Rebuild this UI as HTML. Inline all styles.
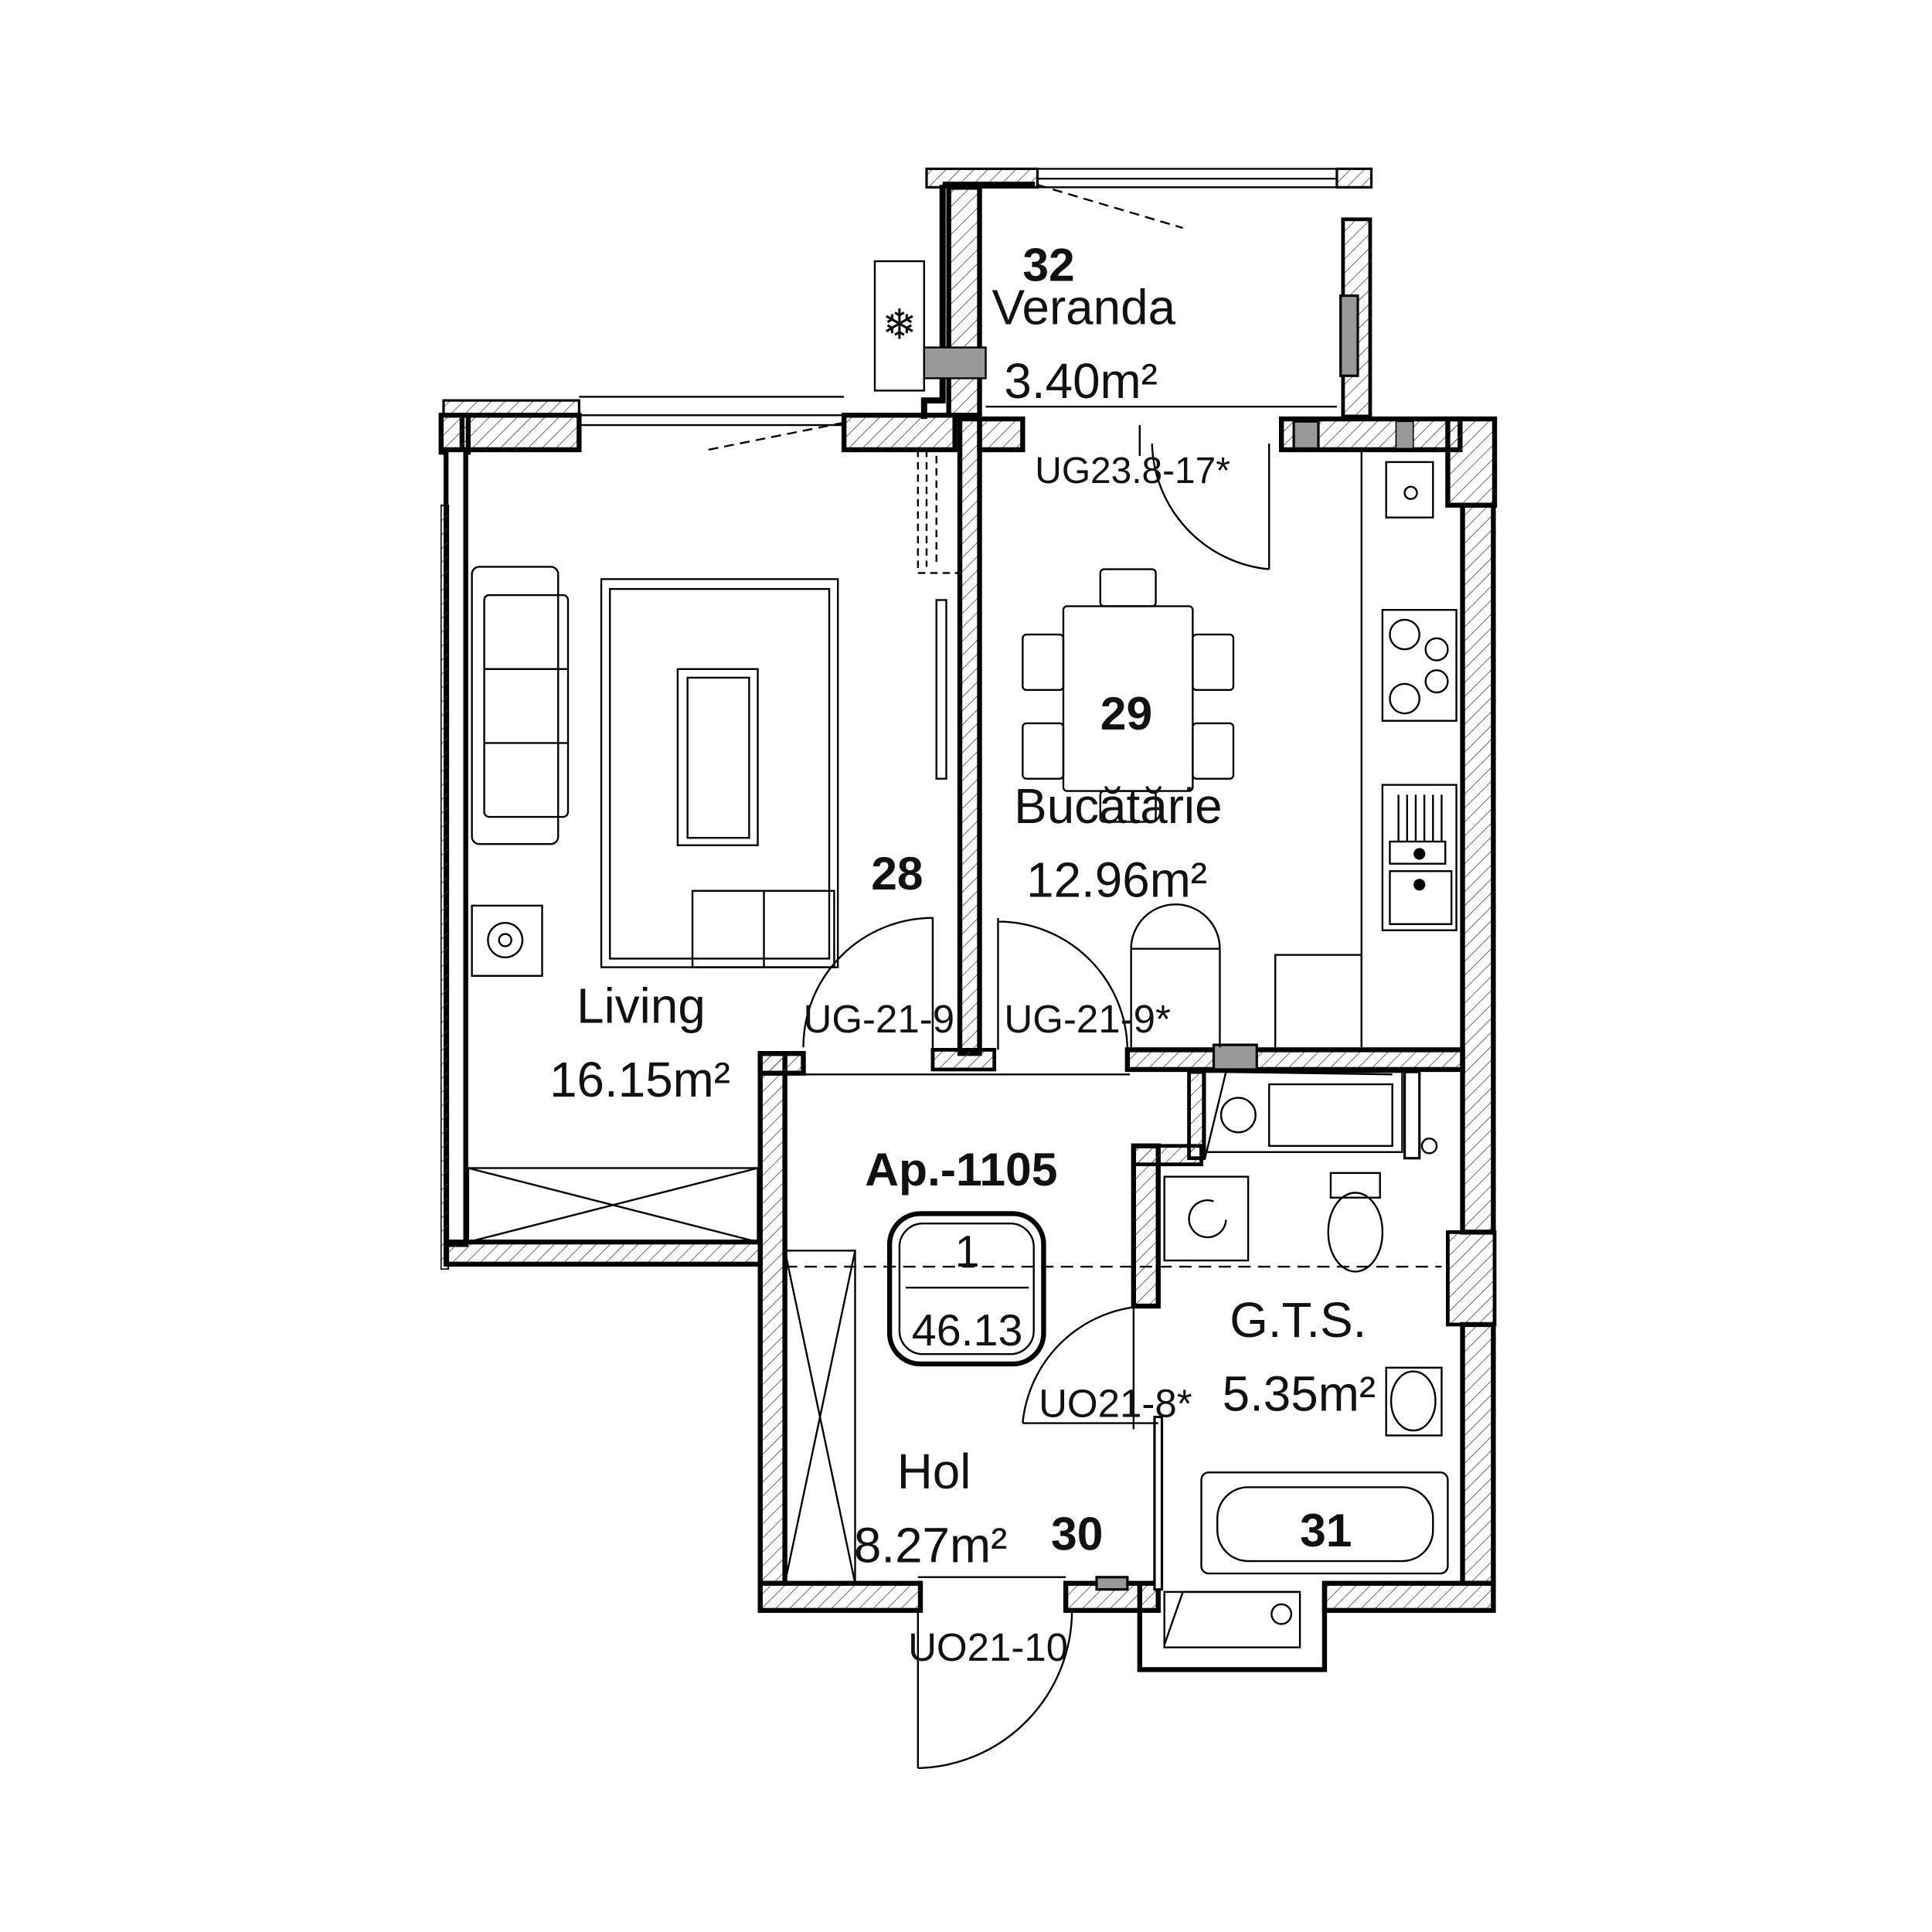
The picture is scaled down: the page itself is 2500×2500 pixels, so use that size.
<!DOCTYPE html>
<html><head><meta charset="utf-8"><style>
html,body{margin:0;padding:0;background:#fff}
svg{display:block}
text{font-family:"Liberation Sans",sans-serif;fill:#111}
</style></head><body>
<svg width="2500" height="2500" viewBox="0 0 1568 1568" xmlns="http://www.w3.org/2000/svg">
<defs>
<pattern id="h" width="8" height="8" patternUnits="userSpaceOnUse" patternTransform="rotate(45)">
<line x1="0" y1="0" x2="0" y2="8" stroke="#444" stroke-width="1"/></pattern>
</defs>
<rect width="1568" height="1568" fill="#fff"/>
<g stroke="#000" stroke-width="4" fill="url(#h)">
<!-- veranda -->
<rect x="752" y="137" width="90" height="15" stroke-width="2"/>
<rect x="1085" y="137" width="28" height="15" stroke-width="2"/>
<path d="M765 150 H840 M765 150 V325 H750 V340" fill="none" stroke-width="5"/>
<rect x="770" y="152" width="25" height="185" stroke-width="4"/>
<rect x="1090" y="178" width="22" height="160" stroke-width="3"/>
<rect x="1088" y="240" width="14" height="65" fill="#999" stroke-width="2"/>
<!-- living top wall -->
<rect x="360" y="325" width="110" height="12" stroke-width="2"/>
<rect x="375" y="337" width="95" height="28" stroke-width="4"/>
<rect x="685" y="337" width="90" height="28" stroke-width="4"/>
<rect x="358" y="337" width="22" height="30" stroke-width="4"/>
<!-- living left wall -->
<rect x="362" y="365" width="16" height="645" stroke-width="4" fill="#fff"/>
<rect x="358" y="410" width="6" height="620" stroke-width="1"/>
<rect x="362" y="1008" width="255" height="18" stroke-width="4"/>
<!-- divider living/kitchen -->
<rect x="779" y="340" width="16" height="515" stroke-width="4"/>
<rect x="757" y="852" width="50" height="16" stroke-width="3"/>
<!-- kitchen top wall -->
<rect x="795" y="340" width="35" height="25" stroke-width="4"/>
<rect x="1040" y="340" width="145" height="25" stroke-width="4"/>
<rect x="1050" y="342" width="20" height="22" fill="#999" stroke-width="2"/>
<rect x="1133" y="342" width="14" height="22" fill="#999" stroke-width="1"/>
<rect x="1175" y="340" width="38" height="70" stroke-width="4"/>
<!-- kitchen right wall -->
<rect x="1187" y="410" width="25" height="590" stroke-width="4"/>
<rect x="1175" y="1000" width="38" height="75" stroke-width="3"/>
<rect x="1187" y="1075" width="25" height="210" stroke-width="4"/>
<!-- kitchen bottom wall -->
<rect x="915" y="852" width="272" height="16" stroke-width="4"/>
<rect x="985" y="848" width="35" height="20" fill="#999" stroke-width="2"/>
<!-- hall -->
<rect x="617" y="855" width="20" height="430" stroke-width="4"/>
<rect x="617" y="855" width="35" height="16" stroke-width="4"/>
<rect x="617" y="1285" width="130" height="22" stroke-width="4"/>
<rect x="865" y="1285" width="75" height="22" stroke-width="4"/>
<rect x="890" y="1280" width="25" height="10" fill="#999" stroke-width="2"/>
<!-- bathroom wall -->
<rect x="920" y="930" width="20" height="130" stroke-width="4"/>
<rect x="920" y="930" width="55" height="15" stroke-width="3"/>
<rect x="965" y="870" width="12" height="70" stroke-width="3"/>
<rect x="1140" y="870" width="12" height="70" stroke-width="2" fill="#fff"/>
<rect x="937" y="1150" width="6" height="140" stroke-width="2" fill="#fff"/>
<rect x="1075" y="1285" width="137" height="22" stroke-width="4"/>
<path d="M925 1285 V1355 H1075 V1285" fill="none" stroke-width="4"/>
</g>
<g stroke="#000" fill="none" stroke-width="1.5">
<!-- windows -->
<path d="M842 137 H1085 M842 145 H1085 M842 152 H1085"/>
<path d="M470 322 H685 M470 337 H685 M470 345 H685"/>
<path d="M842 150 L960 185" stroke-dasharray="8 5"/>
<path d="M575 365 L690 342" stroke-dasharray="8 5"/>
<path d="M800 330 H1085"/>
<!-- AC -->
<rect x="710" y="212" width="40" height="105"/>
<text x="730" y="275" font-size="34" text-anchor="middle" stroke="none">❄</text>
<rect x="750" y="282" width="50" height="25" fill="#999"/>
<!-- kitchen door -->
<path d="M925 345 V370 M1030 360 V462 M1030 462 A105 105 0 0 1 935 360"/>
<!-- living shelves/dashed -->
<path d="M745 365 V465 H778 M752 365 V460 M760 370 V460" stroke-dasharray="6 4"/>
<rect x="760" y="487" width="8" height="145"/>
<!-- sofa -->
<rect x="383" y="460" width="70" height="225" rx="6"/>
<rect x="393" y="483" width="68" height="180" rx="4"/>
<path d="M393 543 H461 M393 603 H461"/>
<!-- rug -->
<rect x="488" y="470" width="192" height="315"/>
<rect x="495" y="478" width="178" height="300"/>
<rect x="550" y="543" width="65" height="143"/>
<rect x="558" y="550" width="50" height="130"/>
<rect x="562" y="723" width="115" height="62"/>
<path d="M620 723 V785"/>
<!-- fireplace -->
<rect x="383" y="735" width="57" height="57"/>
<circle cx="410" cy="763" r="14"/><circle cx="410" cy="763" r="5"/>
<!-- wardrobe living -->
<rect x="380" y="948" width="235" height="60"/>
<path d="M380 948 L615 1008 M615 948 L380 1008"/>
<!-- living door -->
<path d="M652 850 A105 105 0 0 1 757 745 V852"/>
<!-- kitchen door bottom -->
<path d="M810 745 V852 M810 748 A105 105 0 0 1 915 852"/>
<!-- table & chairs -->
<rect x="863" y="492" width="105" height="150" rx="3"/>
<rect x="893" y="462" width="45" height="30" rx="3"/>
<rect x="893" y="642" width="45" height="25" rx="3"/>
<rect x="830" y="515" width="33" height="45" rx="3"/>
<rect x="830" y="587" width="33" height="45" rx="3"/>
<rect x="968" y="515" width="33" height="45" rx="3"/>
<rect x="968" y="587" width="33" height="45" rx="3"/>
<!-- fridge-like -->
<path d="M918 850 V770 A35 35 0 0 1 990 770 V850 M918 770 H990"/>
<rect x="1035" y="775" width="70" height="77"/>
<path d="M1105 365 V852"/>
<!-- counter items -->
<rect x="1125" y="375" width="38" height="45"/>
<circle cx="1145" cy="400" r="5"/>
<rect x="1122" y="495" width="60" height="90"/>
<circle cx="1140" cy="515" r="12"/><circle cx="1140" cy="567" r="12"/>
<circle cx="1166" cy="527" r="9"/><circle cx="1166" cy="553" r="9"/>
<rect x="1122" y="637" width="60" height="118"/>
<path d="M1135 645 V683 M1142 645 V683 M1149 645 V683 M1156 645 V683 M1163 645 V683 M1170 645 V683"/>
<rect x="1128" y="683" width="45" height="18"/><rect x="1128" y="707" width="50" height="43"/>
<circle cx="1152" cy="693" r="4" fill="#000"/><circle cx="1152" cy="718" r="4" fill="#000"/>
<!-- hall -->
<path d="M637 872 H917"/>
<path d="M637 1028 H1170" stroke-dasharray="10 6"/>
<rect x="637" y="1015" width="57" height="270"/>
<path d="M637 1015 L694 1285 M694 1015 L637 1285"/>
<rect x="722" y="985" width="125" height="122" rx="25" stroke-width="4"/>
<rect x="730" y="993" width="109" height="106" rx="19"/>
<path d="M735 1045 H835"/>
<path d="M745 1280 H865"/>
<!-- entrance door -->
<path d="M745 1307 V1435 M745 1435 A128 128 0 0 0 870 1307"/>
<!-- bath door -->
<path d="M830 1155 H940 M830 1155 A105 105 0 0 1 930 1060"/>
<path d="M920 1060 V1160"/>
<!-- washer -->
<rect x="945" y="955" width="68" height="68"/>
<path d="M985 975 A15 15 0 1 0 995 990"/>
<rect x="1080" y="952" width="40" height="20"/>
<ellipse cx="1100" cy="1000" rx="22" ry="32"/>
<rect x="1125" y="1110" width="45" height="55"/>
<ellipse cx="1147" cy="1137" rx="18" ry="24"/>
<rect x="975" y="1195" width="200" height="82" rx="6"/>
<rect x="988" y="1207" width="175" height="60" rx="25"/>
<rect x="978" y="870" width="160" height="65"/>
<circle cx="1005" cy="905" r="14"/>
<rect x="1030" y="880" width="100" height="50"/>
<rect x="945" y="1292" width="110" height="45"/>
<circle cx="1040" cy="1310" r="8"/>
<path d="M978 940 L995 870 L1130 872 M945 1335 L960 1292 L1055 1292"/>
<circle cx="1160" cy="930" r="6"/>
</g>
<!-- texts -->
<g font-size="40">
<text x="830" y="228" font-weight="bold" font-size="38">32</text>
<text x="805" y="263">Veranda</text>
<text x="815" y="323">3.40m²</text>
<text x="840" y="392" font-size="30">UG23.8-17*</text>
<text x="893" y="592" font-weight="bold" font-size="38">29</text>
<text x="823" y="668">Bucătărie</text>
<text x="833" y="728">12.96m²</text>
<text x="707" y="722" font-weight="bold" font-size="38">28</text>
<text x="468" y="830">Living</text>
<text x="446" y="890">16.15m²</text>
<text x="652" y="838" font-size="32">UG-21-9</text>
<text x="815" y="838" font-size="32">UG-21-9*</text>
<text x="702" y="962" font-weight="bold" font-size="38">Ap.-1105</text>
<text x="785" y="1028" text-anchor="middle" font-size="36">1</text>
<text x="785" y="1092" text-anchor="middle" font-size="36">46.13</text>
<text x="998" y="1085">G.T.S.</text>
<text x="992" y="1145">5.35m²</text>
<text x="843" y="1150" font-size="32">UO21-8*</text>
<text x="728" y="1208">Hol</text>
<text x="693" y="1268">8.27m²</text>
<text x="853" y="1258" font-weight="bold" font-size="38">30</text>
<text x="1055" y="1255" font-weight="bold" font-size="38">31</text>
<text x="737" y="1348" font-size="32">UO21-10</text>
</g>
</svg>
</body></html>
